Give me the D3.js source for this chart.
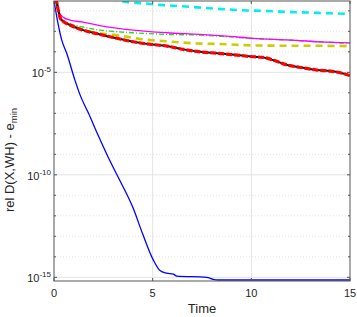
<!DOCTYPE html>
<html>
<head>
<meta charset="utf-8">
<script src="https://cdn.jsdelivr.net/npm/d3@7"></script>
<style>
  body { margin: 0; background: #fff; }
  svg { display: block; font-family: "Liberation Sans", Arial, Helvetica, sans-serif; }
</style>
</head>
<body>
<div id="chart"></div>
<script>
// values; y values stored as log10 exponents
var xTicks = [0, 5, 10, 15];
var yMajorExp = [-15, -10, -5];
var yMinorExp = [-14, -13, -12, -11, -9, -8, -7, -6, -4, -3, -2];

var blueT = [0, 0.17, 0.39, 0.64, 1.06, 1.32, 1.75, 2.18, 2.74, 3.19, 4.0, 4.5, 5.03, 5.37, 5.71, 6.05, 6.22, 7.74, 8.07, 8.3, 15];
var blueE = [-1.5, -2.45, -3.42, -4.06, -5.38, -6.1, -7.0, -7.95, -9.13, -10.0, -11.6, -12.9, -14.15, -14.67, -14.8, -14.85, -14.94, -15.0, -15.1, -15.13, -15.13];

var redT = [0, 0.12, 0.2, 0.27, 0.33, 0.45, 0.81, 1.47, 2.33, 3.19, 4.0, 4.87, 5.73, 6.54, 7.4, 8.26, 9.28, 10.09, 10.59, 11.1, 11.81, 12.62, 13.33, 13.99, 14.5, 15];
var redE = [-1.0, -1.5, -1.9, -2.2, -2.38, -2.5, -2.69, -2.94, -3.15, -3.34, -3.51, -3.63, -3.72, -3.88, -4.0, -4.07, -4.16, -4.24, -4.27, -4.4, -4.64, -4.78, -4.89, -4.94, -5.02, -5.16];

var magentaT = [0, 0.15, 0.22, 0.3, 0.5, 0.81, 1.47, 2.33, 4.0, 5.73, 7.4, 8.92, 10.09, 11.81, 13.48, 15];
var magentaE = [-1.0, -1.5, -1.9, -2.15, -2.33, -2.45, -2.55, -2.72, -2.94, -3.07, -3.15, -3.25, -3.34, -3.42, -3.51, -3.56];

var greenT = [0, 0.15, 0.22, 0.3, 0.5, 0.81, 1.47, 2.33, 2.84, 4.0, 5.73, 7.4, 8.9, 10.1, 11.81, 13.48, 15];
var greenE = [-1.0, -1.5, -1.95, -2.35, -2.5, -2.64, -2.79, -2.94, -2.99, -3.07, -3.15, -3.18, -3.27, -3.35, -3.42, -3.51, -3.59];

var yellowT = [0, 0.12, 0.2, 0.27, 0.33, 0.45, 0.81, 1.5, 2.3, 2.84, 3.85, 4.51, 5.52, 6.39, 7.25, 8.77, 9.78, 11.45, 13.13, 14.85, 15];
var yellowE = [-1.0, -1.5, -1.9, -2.2, -2.38, -2.5, -2.68, -2.93, -3.1, -3.15, -3.29, -3.39, -3.47, -3.54, -3.59, -3.63, -3.68, -3.7, -3.7, -3.72, -3.72];

var cyanT = [0, 1, 2, 3, 3.6, 4.51, 5.52, 6.39, 7.25, 8.77, 9.78, 10.59, 11.45, 13.13, 13.99, 15];
var cyanE = [-0.5, -1.0, -1.25, -1.43, -1.56, -1.63, -1.72, -1.77, -1.83, -1.93, -1.98, -2.0, -2.04, -2.09, -2.12, -2.15];

var width = 357, height = 317;
var margin = {top: 1, right: 7, bottom: 36, left: 54};
var plotW = width - margin.left - margin.right;
var plotH = height - margin.top - margin.bottom;

var x = d3.scaleLinear().domain([0, 15]).range([0, plotW]);
var y = d3.scaleLog().domain([Math.pow(10, -15.18), Math.pow(10, -1.52)]).range([plotH, 0]);

function series(ts, es) {
    return ts.map(function(t, i) { return {t: t, v: Math.pow(10, es[i])}; });
}

var svg = d3.select("#chart").append("svg")
    .attr("width", width)
    .attr("height", height);

var g = svg.append("g")
    .attr("transform", "translate(" + margin.left + "," + margin.top + ")");

g.append("defs").append("clipPath").attr("id", "clip")
    .append("rect").attr("width", plotW).attr("height", plotH);

// grid
g.selectAll(".vgrid").data([5, 10]).enter().append("line")
    .attr("x1", function(d) { return x(d); }).attr("x2", function(d) { return x(d); })
    .attr("y1", 0).attr("y2", plotH)
    .attr("stroke", "#e3e3e3").attr("stroke-width", 1);

g.selectAll(".hgrid").data(yMajorExp).enter().append("line")
    .attr("x1", 0).attr("x2", plotW)
    .attr("y1", function(d) { return y(Math.pow(10, d)); })
    .attr("y2", function(d) { return y(Math.pow(10, d)); })
    .attr("stroke", "#e3e3e3").attr("stroke-width", 1);

g.selectAll(".hminor").data(yMinorExp).enter().append("line")
    .attr("x1", 0).attr("x2", plotW)
    .attr("y1", function(d) { return y(Math.pow(10, d)); })
    .attr("y2", function(d) { return y(Math.pow(10, d)); })
    .attr("stroke", "#dcdcdc").attr("stroke-width", 0.8)
    .attr("stroke-dasharray", "1,2");

var line = d3.line()
    .x(function(d) { return x(d.t); })
    .y(function(d) { return y(d.v); })
    .curve(d3.curveMonotoneX);

var curves = g.append("g").attr("clip-path", "url(#clip)");

var styles = [
    {t: blueT, e: blueE, color: "#0000ff", w: 1.3, dash: null},
    {t: cyanT, e: cyanE, color: "#00eeee", w: 2.6, dash: "7,5"},
    {t: yellowT, e: yellowE, color: "#cccc00", w: 2.6, dash: "7,5"},
    {t: greenT, e: greenE, color: "#22dd22", w: 1.4, dash: "5,2,1,2"},
    {t: magentaT, e: magentaE, color: "#ff00ff", w: 1.3, dash: null},
    {t: redT, e: redE, color: "#111111", w: 2.0, dash: null},
    {t: redT, e: redE, color: "#ff0000", w: 3.2, dash: "6,2"}
];

styles.forEach(function(s) {
    curves.append("path")
        .datum(series(s.t, s.e))
        .attr("fill", "none")
        .attr("stroke", s.color)
        .attr("stroke-width", s.w)
        .attr("stroke-dasharray", s.dash)
        .attr("d", line);
});

// axes box
var axisColor = "#555";
g.append("rect")
    .attr("width", plotW).attr("height", plotH)
    .attr("fill", "none").attr("stroke", axisColor).attr("stroke-width", 1);

// x ticks (bottom + top, inward)
xTicks.forEach(function(d) {
    g.append("line").attr("x1", x(d)).attr("x2", x(d)).attr("y1", plotH).attr("y2", plotH - 3)
        .attr("stroke", axisColor);
    g.append("line").attr("x1", x(d)).attr("x2", x(d)).attr("y1", 0).attr("y2", 3)
        .attr("stroke", axisColor);
    g.append("text")
        .attr("x", x(d)).attr("y", plotH + 16)
        .attr("text-anchor", "middle")
        .attr("font-size", 11).attr("fill", "#262626")
        .text(d);
});

// y ticks (left + right)
yMajorExp.concat(yMinorExp).forEach(function(d) {
    var yy = y(Math.pow(10, d));
    var len = yMajorExp.indexOf(d) >= 0 ? 3 : 2;
    g.append("line").attr("x1", 0).attr("x2", len).attr("y1", yy).attr("y2", yy).attr("stroke", axisColor);
    g.append("line").attr("x1", plotW).attr("x2", plotW - len).attr("y1", yy).attr("y2", yy).attr("stroke", axisColor);
});

yMajorExp.forEach(function(d) {
    var yy = y(Math.pow(10, d));
    var t = g.append("text")
        .attr("x", -3).attr("y", yy + 5)
        .attr("text-anchor", "end")
        .attr("font-size", 11).attr("fill", "#262626");
    t.append("tspan").text("10");
    t.append("tspan").attr("dy", -5).attr("font-size", 8).text(d);
});

// axis labels
g.append("text")
    .attr("x", plotW / 2).attr("y", plotH + 32)
    .attr("text-anchor", "middle")
    .attr("font-size", 13).attr("fill", "#262626")
    .text("Time");

var yl = svg.append("text")
    .attr("transform", "translate(14," + 160 + ") rotate(-90)")
    .attr("text-anchor", "middle")
    .attr("font-size", 13).attr("fill", "#262626");
yl.append("tspan").text("rel D(X,WH) - e");
yl.append("tspan").attr("dy", 3).attr("font-size", 9.5).text("min");
</script>
</body>
</html>
